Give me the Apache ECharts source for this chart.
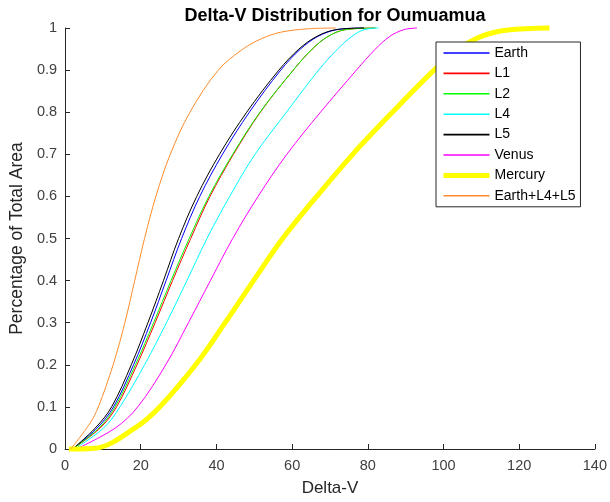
<!DOCTYPE html>
<html>
<head>
<meta charset="utf-8">
<script src="https://cdn.jsdelivr.net/npm/echarts@6/dist/echarts.min.js"></script>
<style>html,body{margin:0;padding:0;background:#fff;}#c{width:610px;height:502px;}</style>
</head>
<body>
<div id="c"></div>
<script>
const seriesNames = ['Earth','L1','L2','L4','L5','Venus','Mercury','Earth+L4+L5'];
const xTicks = [0,20,40,60,80,100,120,140];
const yTicks = [0,0.1,0.2,0.3,0.4,0.5,0.6,0.7,0.8,0.9,1];

const earth = [[2,0],[8.5,0.05],[12.8,0.1],[18.1,0.2],[22.6,0.3],[26.7,0.4],[30.8,0.5],[35.6,0.6],[41.6,0.7],[48.7,0.8],[57,0.9],[62.2,0.95],[66.8,0.98],[71.8,0.996],[79,1]];
const l1 = [[2,0],[9.3,0.05],[13.6,0.1],[19,0.2],[23.8,0.3],[28.4,0.4],[33.2,0.5],[38.3,0.6],[44.5,0.7],[51.6,0.8],[60.3,0.9],[65.3,0.95],[69.5,0.98],[74,0.996],[82,1]];
const l2 = [[2,0],[9,0.05],[13.2,0.1],[18.6,0.2],[23.4,0.3],[28,0.4],[32.8,0.5],[38,0.6],[44.3,0.7],[51.5,0.8],[60.3,0.9],[65.3,0.95],[69.5,0.98],[74,0.996],[82,1]];
const l4 = [[2.5,0],[10.2,0.05],[14.5,0.1],[21,0.2],[26.8,0.3],[32.2,0.4],[37.5,0.5],[43.5,0.6],[50.2,0.7],[58.5,0.8],[67,0.9],[72,0.95],[75.8,0.98],[79,0.996],[82.8,1]];
const l5 = [[2,0],[8,0.05],[12.3,0.1],[17.5,0.2],[21.9,0.3],[26,0.4],[30,0.5],[34.8,0.6],[40.8,0.7],[48,0.8],[56.5,0.9],[61.8,0.95],[66.5,0.98],[71.5,0.996],[79,1]];
const venus = [[3,0],[13.3,0.05],[19.2,0.1],[26.6,0.2],[32.6,0.3],[38.4,0.4],[44.3,0.5],[51,0.6],[58.6,0.7],[67.5,0.8],[77,0.9],[82,0.95],[85.8,0.98],[89.5,0.996],[93,1]];
const mercury = [[1,0],[8,0.002],[18.5,0.05],[25,0.1],[34.5,0.2],[42.3,0.3],[49.8,0.4],[57.5,0.5],[66.5,0.6],[76,0.7],[86.5,0.8],[97.5,0.9],[104,0.95],[110,0.98],[117,0.995],[128,1]];
const combined = [[1.5,0],[6.5,0.06],[8.8,0.1],[12.7,0.2],[15.8,0.3],[18.4,0.4],[21,0.5],[24,0.6],[27.8,0.7],[33,0.8],[40.5,0.9],[47,0.95],[52,0.975],[57,0.99],[64,0.998],[71.5,1]];

const seriesData = [earth, l1, l2, l4, l5, venus, mercury, combined];
const colors = ['#0000ff','#ff0000','#00ff00','#00ffff','#000000','#ff00ff','#ffff00','#ff8c2a'];
const widths = [1,1,1,1,1,1,5,1];

const FONT = '"Liberation Sans", Arial, Helvetica, sans-serif';
const chart = echarts.init(document.getElementById('c'), null, {renderer:'canvas'});
chart.setOption({
  animation: false,
  backgroundColor: '#ffffff',
  title: {
    text: 'Delta-V Distribution for Oumuamua',
    left: 330, top: 2, textAlign: 'center',
    textStyle: {fontFamily: FONT, fontSize: 18, fontWeight: 'bold', color: '#000'}
  },
  legend: {
    orient: 'vertical',
    left: 436, top: 42,
    data: seriesNames.map((n, i) => ({name: n, lineStyle: {width: widths[i] > 1 ? 5 : 1.6, color: colors[i]}})),
    itemWidth: 46, itemHeight: 14, itemGap: 6.4,
    padding: [4, 5, 4, 5],
    backgroundColor: '#ffffff',
    borderColor: '#262626', borderWidth: 1,
    itemStyle: {color: 'rgba(0,0,0,0)', borderWidth: 0, opacity: 0},
    textStyle: {fontFamily: FONT, fontSize: 14, color: '#000'}
  },
  grid: {left: 65, right: 12, top: 28, bottom: 53},
  xAxis: {
    type: 'value', min: 0, max: 140, interval: 20,
    name: 'Delta-V', nameLocation: 'middle', nameGap: 31,
    nameTextStyle: {fontFamily: FONT, fontSize: 17, color: '#262626'},
    axisLine: {show: true, lineStyle: {color: '#262626', width: 1}},
    axisTick: {show: true, inside: true, length: 5, lineStyle: {color: '#262626'}},
    axisLabel: {fontFamily: FONT, fontSize: 14.5, color: '#404040', margin: 9,
      formatter: v => xTicks.includes(v) ? String(v) : ''},
    splitLine: {show: false}
  },
  yAxis: {
    type: 'value', min: 0, max: 1, interval: 0.1,
    name: 'Percentage of Total Area', nameLocation: 'middle', nameGap: 36,
    nameTextStyle: {fontFamily: FONT, fontSize: 17.5, color: '#262626'},
    axisLine: {show: true, lineStyle: {color: '#262626', width: 1}},
    axisTick: {show: true, inside: true, length: 5, lineStyle: {color: '#262626'}},
    axisLabel: {fontFamily: FONT, fontSize: 14.5, color: '#404040', margin: 8,
      formatter: v => { const t = yTicks.find(k => Math.abs(k - v) < 1e-9); return t === undefined ? '' : String(+t.toFixed(1)); }},
    splitLine: {show: false}
  },
  series: seriesNames.map((n, i) => ({
    name: n, type: 'line', data: seriesData[i],
    symbol: 'none', showSymbol: false,
    smooth: 0.35,
    lineStyle: {color: colors[i], width: widths[i]},
    itemStyle: {color: colors[i]},
    clip: false
  }))
});
</script>
</body>
</html>
